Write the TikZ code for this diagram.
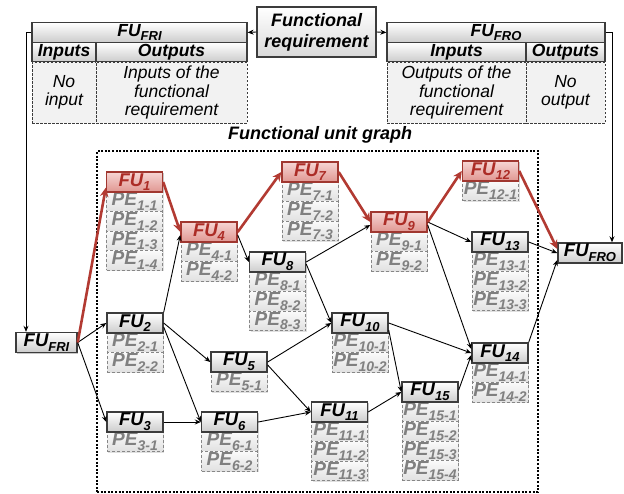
\documentclass[tikz,border=0pt]{standalone}
\usepackage{fontspec}
\setmainfont{Liberation Sans}
\usetikzlibrary{arrows.meta,shadows,calc}

\definecolor{redline}{RGB}{178,58,50}
\definecolor{redtext}{RGB}{172,44,38}
\definecolor{redborder}{RGB}{160,55,48}
\definecolor{redtop}{RGB}{246,214,212}
\definecolor{redbot}{RGB}{224,150,145}
\definecolor{boxline}{RGB}{60,60,60}
\definecolor{pegray}{RGB}{135,135,135}
\definecolor{petext}{RGB}{128,128,128}

% lowered small indices after FU and PE
\newcommand\fusub[1]{\raisebox{-0.25em}{\fontsize{13}{13}\selectfont #1}}
\newcommand\pesub[1]{\raisebox{-0.25em}{\fontsize{14}{14}\selectfont #1}}

\tikzset{
  softshadow/.style={drop shadow={shadow xshift=1.2pt, shadow yshift=-1.2pt, opacity=0.22, fill=black}},
  fubox/.style={draw=boxline, line width=1.4pt, minimum width=56pt, minimum height=20pt,
    inner sep=0pt, top color=white, bottom color=black!20, softshadow,
    font=\fontsize{18.5}{18.5}\selectfont\bfseries\itshape},
  redbox/.style={fubox, draw=redborder, top color=redtop, bottom color=redbot, text=redtext},
  pebox/.style={draw=pegray, dash pattern=on 3pt off 2pt, line width=0.9pt,
    minimum width=56pt, minimum height=19.6pt, inner sep=0pt,
    top color=black!2, bottom color=black!12, text=petext,
    drop shadow={shadow xshift=1pt, shadow yshift=-1pt, opacity=0.12, fill=black},
    font=\fontsize{19}{19}\selectfont\bfseries\itshape},
  hdr/.style={draw=boxline, line width=1.3pt, minimum height=19.5pt, inner sep=0pt,
    top color=white, bottom color=black!20,
    font=\fontsize{17.5}{17.5}\selectfont\bfseries\itshape},
  cell/.style={draw=boxline, dash pattern=on 2.5pt off 1.5pt, line width=1pt,
    minimum height=61pt, inner sep=0pt, fill=black!5, align=center,
    font=\fontsize{17.5}{18.5}\selectfont\itshape},
  reqbox/.style={draw=boxline, line width=1.4pt, minimum width=119pt, minimum height=50pt,
    inner sep=0pt, top color=white, bottom color=black!15, align=center, softshadow,
    font=\fontsize{18}{21}\selectfont\bfseries\itshape},
  frame/.style={draw=black, line width=1.4pt, dash pattern=on 2pt off 1.6pt,
    minimum width=441pt, minimum height=341pt, inner sep=0pt},
  edge/.style={draw=black, line width=0.9pt, -{Stealth[length=6pt,width=5pt]}},
  redge/.style={draw=redline, line width=2.6pt, -{Stealth[length=9pt,width=8.5pt]}},
}

% unit with its process elements: name, centre x, top y, index, number of PEs, style
\newcommand\fuunit[6]{%
  \foreach \j in {1,...,#5}{
    \node[pebox] (#1-pe\j) at (#2, #3+20+19.6*\j-9.8) {PE\pesub{#4-\j}};
  }
  \node[#6] (#1) at (#2, #3+10) {FU\fusub{#4}};
}

\begin{document}
\begin{tikzpicture}[x=1pt, y=-1pt]
\useasboundingbox (0,0) rectangle (624,493);

% functional requirement and its two boundary units
\node[reqbox] (req) at (316.5,32) {Functional\\requirement};

\node[hdr, minimum width=215pt] (frihead) at (139.5,32.5) {FU\fusub{FRI}};
\node[hdr, minimum width=64pt] (friin) at (64,52) {Inputs};
\node[hdr, minimum width=151pt] (friout) at (171.5,52) {Outputs};
\node[cell, minimum width=64pt] (friinb) at (64,92.5) {No\\input};
\node[cell, minimum width=151pt] (frioutb) at (171.5,92.5) {Inputs of the\\functional\\requirement};

\node[hdr, minimum width=218pt] (frohead) at (496,32.5) {FU\fusub{FRO}};
\node[hdr, minimum width=139pt] (froin) at (456.5,52) {Inputs};
\node[hdr, minimum width=79pt] (froout) at (565.5,52) {Outputs};
\node[cell, minimum width=139pt] (froinb) at (456.5,92.5) {Outputs of the\\functional\\requirement};
\node[cell, minimum width=79pt] (frooutb) at (565.5,92.5) {No\\output};

% graph frame and title
\node[frame] (graph) at (317.5,321.5) {};
\node[font=\fontsize{18}{18}\selectfont\bfseries\itshape, inner sep=0pt] (title) at (320,135) {Functional unit graph};

% units
\fuunit{u1}{134.5}{172}{1}{4}{redbox}
\fuunit{u2}{135}{313}{2}{2}{fubox}
\fuunit{u3}{135}{412}{3}{1}{fubox}
\fuunit{u4}{209}{222}{4}{2}{redbox}
\fuunit{u5}{239}{352}{5}{1}{fubox}
\fuunit{u6}{229.5}{412}{6}{2}{fubox}
\fuunit{u7}{310}{162}{7}{3}{redbox}
\fuunit{u8}{277.5}{252}{8}{3}{fubox}
\fuunit{u9}{399}{212}{9}{2}{redbox}
\fuunit{u10}{360}{313}{10}{2}{fubox}
\fuunit{u11}{339.5}{402}{11}{3}{fubox}
\fuunit{u12}{490.5}{161}{12}{1}{redbox}
\fuunit{u13}{500}{232}{13}{3}{fubox}
\fuunit{u14}{500}{343}{14}{2}{fubox}
\fuunit{u15}{430}{382}{15}{4}{fubox}

\node[fubox, minimum width=61pt] (fri) at (46.5,342.5) {FU\fusub{FRI}};
\node[fubox, minimum width=64pt] (fro) at (590,253) {FU\fusub{FRO}};

% links from the requirement
\coordinate (lturn) at (26,32.5);
\coordinate (rturn) at (612,32.5);
\draw[edge] (req.west) -- (frihead.east);
\draw[edge] (req.east) -- (frohead.west);
\draw[edge] (frihead.west) -- (lturn) -- (lturn |- fri.north);
\draw[edge] (frohead.east) -- (rturn) -- (rturn |- fro.north);

% ordinary precedence links
\draw[edge] (fri.east) -- (u2.west);
\draw[edge] (fri.east) -- (u3.west);
\draw[edge] (u2.north east) -- ([yshift=-3pt]u4.west);
\draw[edge] (u2.east) -- (u5.west);
\draw[edge] ([yshift=-4pt]u2.east) -- (u6.west);
\draw[edge] (u3.east) -- (u6.west);
\draw[edge] ([yshift=-3pt]u4.east) -- (u8.west);
\draw[edge] (u8.east) -- ([yshift=-3pt]u9.west);
\draw[edge] ([yshift=-2pt]u8.east) -- (u10.west);
\draw[edge] (u5.east) -- (u10.west);
\draw[edge] ([yshift=-3pt]u5.east) -- (u11.west);
\draw[edge] (u6.east) -- (u11.west);
\draw[edge] (u9.east) -- (u13.west);
\draw[edge] ([yshift=-3pt]u9.east) -- ([yshift=4pt]u14.west);
\draw[edge] (u10.east) -- (u14.west);
\draw[edge] ([yshift=-7pt]u10.east) -- (u15.west);
\draw[edge] (u11.east) -- (u15.west);
\draw[edge] ([yshift=2pt]u15.east) -- ([yshift=-2pt]u14.west);
\draw[edge] (u13.east) -- (fro.west);
\draw[edge] (u14.north east) -- ([yshift=-7pt]fro.west);

% highlighted path
\draw[redge] (fri.east) -- ([yshift=5pt]u1.south west);
\draw[redge] (u1.east) -- (u4.west);
\draw[redge] (u4.east) -- (u7.west);
\draw[redge] (u7.east) -- (u9.west);
\draw[redge] (u9.east) -- (u12.west);
\draw[redge] (u12.east) -- ([yshift=4pt]fro.west);
\end{tikzpicture}
\end{document}
